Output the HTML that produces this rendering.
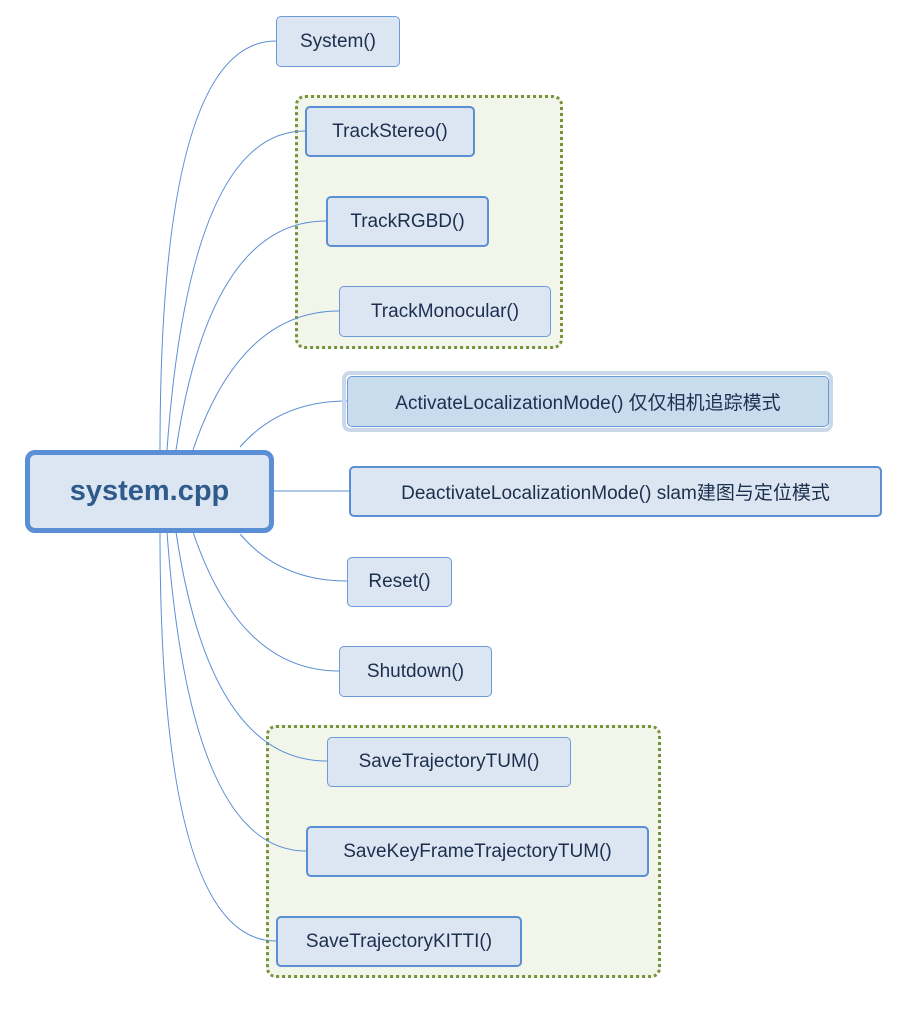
<!DOCTYPE html>
<html><head><meta charset="utf-8"><style>
body{margin:0;width:917px;height:1017px;background:#fff;position:relative;overflow:hidden;font-family:"Liberation Sans","Noto Sans CJK SC",sans-serif}
.n{position:absolute;box-sizing:border-box;background:#dce6f2;border:1px solid #6a9ad8;border-radius:5px;color:#1d2f4f;font-size:19px;display:flex;align-items:center;justify-content:center;white-space:nowrap}
.t{border:2px solid #5b8fd4}
.g{position:absolute;box-sizing:border-box;background:#f2f5ea;border:3px dotted #77923a;border-radius:10px}
</style></head><body>
<div class="g" style="left:295px;top:95px;width:268px;height:254px"></div>
<div class="g" style="left:266px;top:725px;width:395px;height:253px"></div>
<svg style="position:absolute;left:0;top:0" width="917" height="1017">
<g fill="none" stroke="#5b8fd4" stroke-width="1">
<path d="M160 450 Q160 41 276 41"/>
<path d="M167 450 Q190 131 305 131"/>
<path d="M176 450 Q210 221 326 221"/>
<path d="M193 450 Q240 311 339 311"/>
<path d="M240 447 Q280 401 347 401"/>
<path d="M273 491 L349 491"/>
<path d="M240 534 Q280 581 347 581"/>
<path d="M193 532 Q240 671 339 671"/>
<path d="M176 532 Q210 761 327 761"/>
<path d="M167 532 Q190 851 306 851"/>
<path d="M160 532 Q160 941 276 941"/>
</g></svg>
<div class="n" style="left:25px;top:450px;width:249px;height:83px;border:5px solid #5a8fd6;border-radius:10px;font-size:29px;font-weight:bold;color:#2f5b8c">system.cpp</div>
<div class="n" style="left:276px;top:16px;width:124px;height:51px">System()</div>
<div class="n t" style="left:305px;top:106px;width:170px;height:51px">TrackStereo()</div>
<div class="n t" style="left:326px;top:196px;width:163px;height:51px">TrackRGBD()</div>
<div class="n" style="left:339px;top:286px;width:212px;height:51px">TrackMonocular()</div>
<div style="position:absolute;left:342px;top:371px;width:491px;height:61px;box-sizing:border-box;border:4px solid #c9d9ea;border-radius:8px"></div>
<div class="n" style="left:347px;top:376px;width:482px;height:51px;background:#c7dced">ActivateLocalizationMode() 仅仅相机追踪模式</div>
<div class="n t" style="left:349px;top:466px;width:533px;height:51px">DeactivateLocalizationMode() slam建图与定位模式</div>
<div class="n" style="left:347px;top:557px;width:105px;height:50px">Reset()</div>
<div class="n" style="left:339px;top:646px;width:153px;height:51px">Shutdown()</div>
<div class="n" style="left:327px;top:737px;width:244px;height:50px">SaveTrajectoryTUM()</div>
<div class="n t" style="left:306px;top:826px;width:343px;height:51px">SaveKeyFrameTrajectoryTUM()</div>
<div class="n t" style="left:276px;top:916px;width:246px;height:51px">SaveTrajectoryKITTI()</div>
</body></html>
